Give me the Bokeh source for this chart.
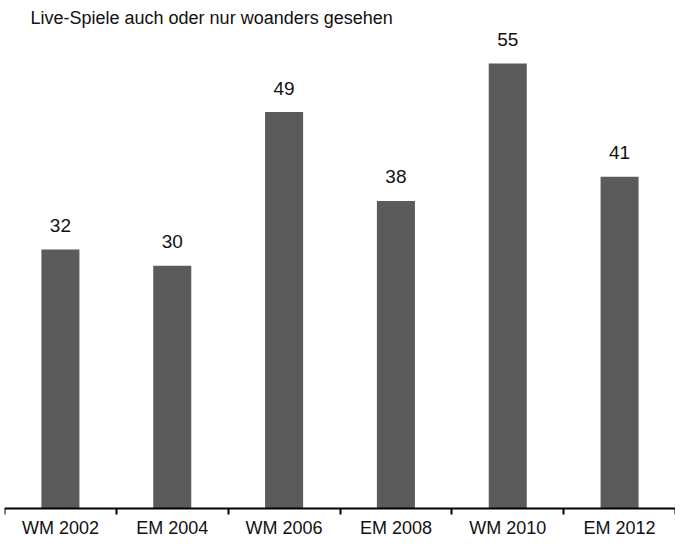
from bokeh.plotting import figure
from bokeh.models import FixedTicker, Range1d, Label, ColumnDataSource
from bokeh.core.properties import value
from bokeh.embed import file_html
from bokeh.resources import INLINE

title_text = "Live-Spiele auch oder nur woanders gesehen"
categories = ["WM 2002", "EM 2004", "WM 2006", "EM 2008", "WM 2010", "EM 2012"]
values = [32, 30, 49, 38, 55, 41]

FONT = "Liberation Sans, Arial, sans-serif"
BAR_COLOR = "#5b5b5b"

centers = [i + 0.5 for i in range(len(categories))]
bounds = list(range(len(categories) + 1))
src = ColumnDataSource(dict(x=centers, top=values, lab=[str(v) for v in values]))

p = figure(width=675, height=538, output_backend="svg", toolbar_location=None,
           x_range=Range1d(0, len(categories)), y_range=Range1d(-3.75, 62.8),
           min_border_left=4, min_border_right=0, min_border_top=0, min_border_bottom=0)
p.outline_line_color = None
p.grid.visible = False
p.background_fill_color = "white"
p.border_fill_color = "white"

p.vbar(x="x", top="top", width=0.34, bottom=0, source=src,
       fill_color=BAR_COLOR, line_color=None)
p.text(x="x", y="top", text="lab", source=src, text_align="center",
       text_baseline="alphabetic", y_offset=-24,
       text_font=value(FONT), text_font_size="19px", text_color="#111111")

p.yaxis.visible = False
ax = p.xaxis[0]
ax.fixed_location = 0
ax.axis_label = None
ax.ticker = FixedTicker(ticks=centers, minor_ticks=bounds)
ax.major_label_overrides = {c: lab for c, lab in zip(centers, categories)}
ax.major_tick_line_color = None
ax.major_tick_in = 0
ax.major_tick_out = 0
ax.minor_tick_in = 0
ax.minor_tick_out = 6
ax.minor_tick_line_color = "black"
ax.minor_tick_line_width = 2
ax.axis_line_color = "black"
ax.axis_line_width = 2
ax.major_label_standoff = 4
ax.major_label_text_font = FONT
ax.major_label_text_font_size = "18px"
ax.major_label_text_color = "#111111"

t = Label(x=26, y=521, x_units="screen", y_units="screen", text=title_text,
          text_font=FONT, text_font_size="18px", text_color="#111111",
          text_baseline="alphabetic")
p.add_layout(t)

open("out.html", "w").write(file_html(p, INLINE))
